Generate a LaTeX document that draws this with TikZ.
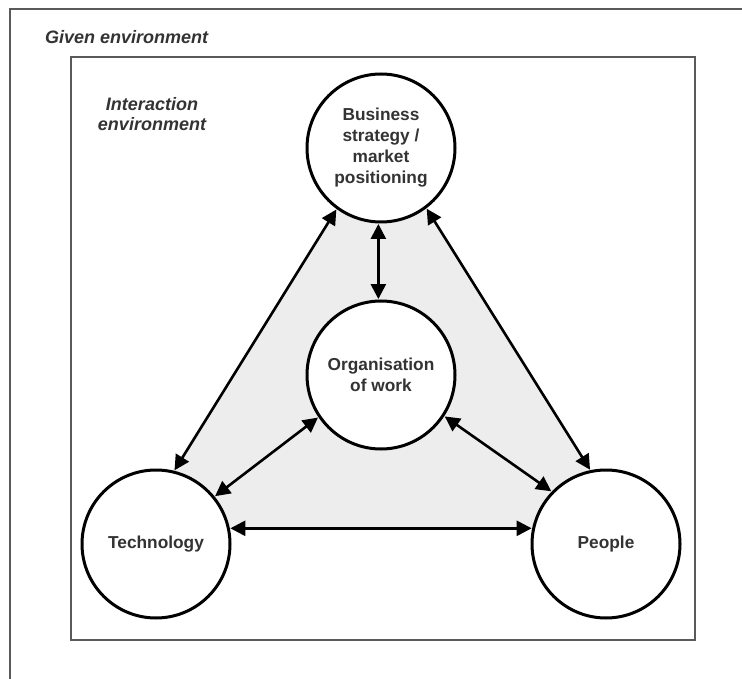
\documentclass[tikz,border=0pt]{standalone}
\usepackage{fontspec}
\setmainfont{Liberation Sans}
\usetikzlibrary{arrows.meta}
\definecolor{txt}{HTML}{333333}
\definecolor{framec}{HTML}{5A5A5A}
\definecolor{trigray}{HTML}{EDEDED}
\tikzset{
  circ/.style={circle, draw=black, line width=3pt, fill=white, minimum size=148pt, inner sep=0pt,
    align=center, text=txt, font=\bfseries\fontsize{17.3}{21}\selectfont},
  conn/.style={line width=2.6pt, {Triangle[length=15pt,width=15pt]}-{Triangle[length=15pt,width=15pt]}, shorten <=0.5pt, shorten >=0.5pt},
  envlabel/.style={text=txt, font=\bfseries\itshape\fontsize{18}{20}\selectfont, align=center, inner sep=0pt},
  framel/.style={draw=framec, line width=1.6pt}
}
\begin{document}
\begin{tikzpicture}[x=1pt,y=-1pt]
\useasboundingbox (0,0) rectangle (742,679);
\fill[white] (0,0) rectangle (742,679);
% outer (given environment) frame, cropped: top and left edges
\coordinate (o1) at (10,679);
\coordinate (o2) at (10,9);
\coordinate (o3) at (742,9);
\draw[framel] (o1) -- (o2) -- (o3);
% inner (interaction environment) box
\draw[framel] (71,57) rectangle (695,640);
% shaded triangle
\fill[trigray] (375,148) -- (390,148) -- (628,528) -- (136,528) -- cycle;
% labels
\node[envlabel, anchor=base west] (given) at (45,44) {Given environment};
\node[envlabel, anchor=base] (inter) at (152,131) {Interaction\\environment};
% circles
\node[circ] (bus) at (381,148) {Business\\strategy /\\market\\positioning};
\node[circ] (org) at (381,375) {Organisation\\of work};
\node[circ] (tech) at (156,544) {Technology};
\node[circ] (peo) at (606,544) {People};
% connectors
\draw[conn] (bus.234) -- (tech.76);
\draw[conn] (bus.307) -- (peo.102);
\draw[conn] (bus.268) -- (org.92);
\draw[conn] (org.214) -- (tech.39);
\draw[conn] (org.327) -- (peo.136);
\draw[conn] (tech.12) -- (peo.168);
\end{tikzpicture}
\end{document}
